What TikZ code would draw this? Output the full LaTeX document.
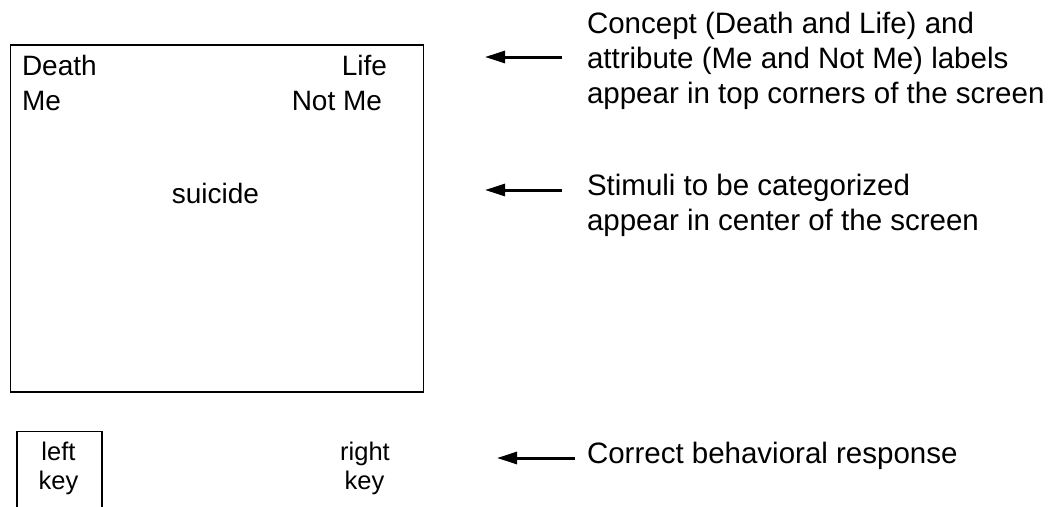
\documentclass[tikz,border=0pt]{standalone}
\usepackage{fontspec}
\setmainfont{Liberation Sans}
\usetikzlibrary{arrows.meta}
\tikzset{
  txt/.style={inner sep=0pt, outer sep=0pt, font=\fontsize{29.5}{35}\selectfont},
  boxtxt/.style={inner sep=0pt, outer sep=0pt, font=\fontsize{28}{34}\selectfont},
  keytxt/.style={inner sep=0pt, outer sep=0pt, font=\fontsize{25.5}{29}\selectfont},
  pointer/.style={line width=3pt, -{Triangle[length=20pt,width=12pt]}},
  frame/.style={draw, line width=1.5pt}
}
\begin{document}
\begin{tikzpicture}[x=1pt,y=-1pt]
\useasboundingbox (0,0) rectangle (1049,506);
% screen
\node[frame, minimum width=413pt, minimum height=347pt, inner sep=0pt, anchor=north west] (screen) at (9.5,44) {};
\node[boxtxt, anchor=base west] (death) at (22,75.5) {Death};
\node[boxtxt, anchor=base west] (me) at (22,110) {Me};
\node[boxtxt, anchor=base east] (life) at (387,75.5) {Life};
\node[boxtxt, anchor=base east] (notme) at (382,110) {Not Me};
\node[boxtxt, anchor=base] (stim) at (215.5,203) {suicide};
% keys
\draw[line width=1.5pt] (17,507) -- (17,431.5) coordinate (kl) -- (102,431.5) coordinate (kr) -- (102,507);
\node[keytxt, anchor=base] (left1) at (58.5,460) {left};
\node[keytxt, anchor=base] (left2) at (58.5,489) {key};
\node[keytxt, anchor=base] (right1) at (365,460) {right};
\node[keytxt, anchor=base] (right2) at (364.5,489) {key};
% right annotations
\node[txt, anchor=base west] (a1) at (587,33) {Concept (Death and Life) and};
\node[txt, anchor=base west] (a2) at (587,68) {attribute (Me and Not Me) labels};
\node[txt, anchor=base west] (a3) at (587,103) {appear in top corners of the screen};
\node[txt, anchor=base west] (b1) at (587,195) {Stimuli to be categorized};
\node[txt, anchor=base west] (b2) at (587,230) {appear in center of the screen};
\node[txt, anchor=base west] (c1) at (587,463) {Correct behavioral response};
% arrows
\coordinate (t1) at (562,57);
\coordinate (h1) at (485,57);
\coordinate (t2) at (562,190);
\coordinate (h2) at (485,190);
\coordinate (t3) at (575,458);
\coordinate (h3) at (497,458);
\draw[pointer] (t1) -- (h1);
\draw[pointer] (t2) -- (h2);
\draw[pointer] (t3) -- (h3);
\end{tikzpicture}
\end{document}
